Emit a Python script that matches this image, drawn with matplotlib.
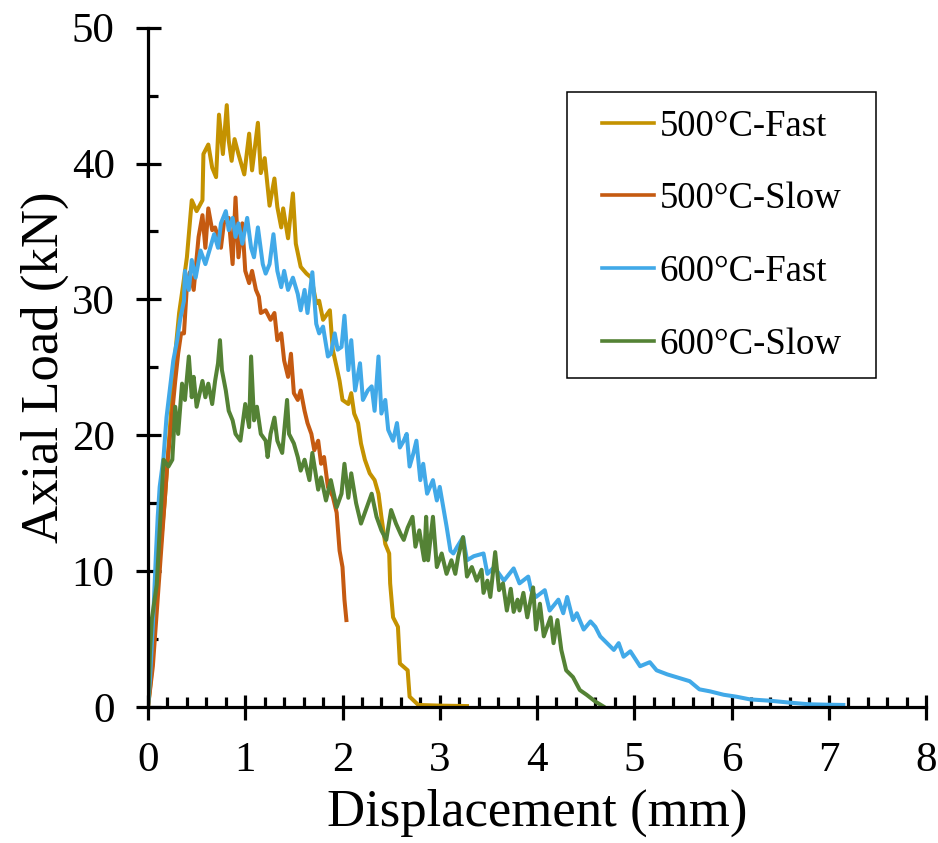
import matplotlib
matplotlib.use("Agg")
import matplotlib.pyplot as plt
from matplotlib.ticker import MultipleLocator
from matplotlib.patches import Rectangle

plt.rcParams['font.family'] = ['Liberation Serif', 'DejaVu Serif']

labels = ["500°C-Fast", "500°C-Slow", "600°C-Fast", "600°C-Slow"]
colors = ["#C49200", "#C55A11", "#41A9E8", "#548235"]

fast500 = [(0, 0), (0.03, 2), (0.07, 6), (0.12, 11), (0.17, 15), (0.20, 18), (0.24, 22), (0.28, 26),
           (0.32, 29), (0.36, 31), (0.40, 33.1), (0.45, 37.3), (0.50, 36.5), (0.56, 37.3), (0.57, 40.7),
           (0.62, 41.4), (0.66, 39.7), (0.70, 39.0), (0.73, 43.6), (0.77, 40.7), (0.81, 44.3), (0.83, 41.7),
           (0.86, 40.2), (0.89, 41.8), (0.93, 40.7), (0.99, 39.2), (1.04, 42.2), (1.07, 39.5), (1.13, 43.0),
           (1.16, 39.3), (1.20, 40.4), (1.25, 36.9), (1.30, 38.9), (1.33, 36.8), (1.37, 35.3), (1.39, 36.7),
           (1.44, 34.5), (1.49, 37.8), (1.52, 34.1), (1.57, 32.4), (1.63, 31.9), (1.68, 31.6), (1.73, 29.7),
           (1.76, 29.9), (1.80, 28.5), (1.87, 29.2), (1.90, 26.3), (1.94, 25.0), (1.97, 24.0), (2.00, 22.6),
           (2.06, 22.3), (2.09, 23.1), (2.12, 21.6), (2.16, 20.9), (2.19, 19.4), (2.23, 18.2), (2.28, 17.2),
           (2.33, 16.7), (2.37, 15.7), (2.40, 14.0), (2.44, 12.0), (2.48, 11.3), (2.49, 9.1), (2.52, 6.6),
           (2.57, 5.9), (2.59, 3.2), (2.67, 2.7), (2.69, 0.76), (2.78, 0.15), (3.00, 0.1), (3.28, 0.07)]

slow500 = [(0, 0), (0.05, 3), (0.10, 8), (0.15, 13), (0.20, 18), (0.24, 21), (0.28, 24), (0.31, 26),
           (0.34, 27.5), (0.37, 27.5), (0.40, 31), (0.43, 32.0), (0.47, 30.7), (0.52, 34.6), (0.56, 36.2),
           (0.59, 33.8), (0.62, 36.7), (0.66, 35.1), (0.69, 35.3), (0.75, 33.8), (0.78, 35.6), (0.83, 36.0),
           (0.87, 32.6), (0.90, 37.5), (0.93, 33.1), (0.97, 35.6), (1.00, 32.1), (1.04, 31.2), (1.07, 32.1),
           (1.11, 30.7), (1.14, 30.2), (1.16, 29.0), (1.21, 29.2), (1.26, 28.5), (1.30, 29.0), (1.33, 27.0),
           (1.37, 27.5), (1.40, 25.5), (1.44, 24.3), (1.47, 26.0), (1.50, 23.1), (1.54, 22.6), (1.57, 23.3),
           (1.61, 21.8), (1.64, 20.9), (1.68, 20.1), (1.71, 18.9), (1.75, 19.6), (1.78, 17.9), (1.81, 18.4),
           (1.85, 16.2), (1.90, 15.5), (1.94, 14.3), (1.97, 11.5), (2.00, 10.3), (2.02, 7.9), (2.04, 6.4)]

fast600 = [(0, 0), (0.02, 2), (0.05, 6), (0.08, 11), (0.10, 14), (0.12, 16.2), (0.16, 18.4), (0.19, 21.3),
           (0.26, 25.5), (0.30, 27.0), (0.33, 28.5), (0.37, 29.9), (0.38, 32.1), (0.42, 30.7), (0.45, 32.9),
           (0.49, 31.6), (0.54, 33.6), (0.59, 32.6), (0.64, 33.8), (0.68, 34.8), (0.72, 33.8), (0.75, 35.6),
           (0.80, 36.5), (0.83, 35.1), (0.87, 36.0), (0.90, 34.6), (0.93, 35.6), (0.97, 34.1), (1.02, 36.0),
           (1.06, 33.8), (1.09, 33.1), (1.13, 35.3), (1.18, 32.6), (1.21, 31.9), (1.25, 32.6), (1.29, 34.8),
           (1.33, 32.1), (1.37, 30.9), (1.40, 32.1), (1.44, 30.7), (1.49, 31.6), (1.54, 30.4), (1.57, 29.2),
           (1.61, 30.7), (1.64, 29.0), (1.69, 32.0), (1.73, 28.2), (1.76, 27.5), (1.80, 28.0), (1.85, 25.8),
           (1.88, 26.0), (1.92, 27.5), (1.95, 26.3), (1.99, 26.5), (2.02, 28.8), (2.06, 24.8), (2.09, 27.0),
           (2.13, 23.3), (2.18, 25.3), (2.21, 22.6), (2.26, 23.3), (2.30, 23.6), (2.33, 21.8), (2.37, 25.8),
           (2.40, 21.6), (2.44, 22.6), (2.47, 20.4), (2.52, 19.6), (2.56, 20.9), (2.59, 19.1), (2.63, 19.6),
           (2.66, 20.1), (2.69, 17.7), (2.73, 18.7), (2.76, 19.6), (2.80, 16.7), (2.83, 17.9), (2.87, 15.7),
           (2.93, 16.7), (2.97, 15.2), (3.00, 16.2), (3.07, 13.3), (3.11, 11.5), (3.14, 11.3), (3.18, 11.8),
           (3.24, 12.5), (3.28, 10.8), (3.35, 11.1), (3.45, 11.3), (3.49, 9.8), (3.56, 10.3), (3.66, 9.3),
           (3.76, 10.2), (3.82, 9.1), (3.91, 9.6), (3.94, 8.6), (3.99, 8.1), (4.08, 8.6), (4.13, 7.1),
           (4.22, 7.9), (4.27, 6.9), (4.31, 8.1), (4.37, 6.4), (4.41, 6.9), (4.48, 5.7), (4.55, 6.3),
           (4.60, 5.9), (4.65, 5.2), (4.72, 4.7), (4.79, 4.2), (4.84, 4.7), (4.89, 3.7), (4.96, 4.1),
           (5.06, 3.0), (5.16, 3.3), (5.23, 2.7), (5.34, 2.4), (5.48, 2.1), (5.57, 1.9), (5.67, 1.3),
           (5.78, 1.15), (5.92, 0.9), (6.05, 0.76), (6.19, 0.56), (6.40, 0.46), (6.60, 0.32), (6.80, 0.2),
           (6.98, 0.17), (7.15, 0.15)]

slow600 = [(0, 0), (0.02, 4), (0.04, 6.5), (0.06, 7.5), (0.09, 9), (0.12, 13), (0.14, 15.5), (0.16, 18.2),
           (0.21, 17.7), (0.25, 18.2), (0.28, 22.1), (0.31, 20.1), (0.35, 23.8), (0.38, 22.6), (0.42, 25.8),
           (0.45, 22.8), (0.47, 24.3), (0.50, 22.1), (0.56, 24.0), (0.59, 22.8), (0.62, 23.8), (0.66, 22.3),
           (0.69, 24.0), (0.72, 25.3), (0.74, 27.0), (0.76, 24.8), (0.80, 23.3), (0.83, 21.8), (0.87, 21.1),
           (0.90, 20.1), (0.95, 19.6), (1.00, 22.3), (1.04, 20.6), (1.06, 25.8), (1.09, 21.1), (1.12, 22.1),
           (1.16, 20.1), (1.21, 19.6), (1.23, 18.4), (1.26, 20.1), (1.30, 21.3), (1.33, 19.6), (1.38, 18.7),
           (1.43, 22.6), (1.45, 20.1), (1.50, 19.4), (1.54, 18.4), (1.57, 17.4), (1.61, 18.2), (1.66, 16.7),
           (1.69, 18.7), (1.75, 16.0), (1.78, 16.9), (1.83, 15.2), (1.88, 16.7), (1.94, 14.7), (1.99, 15.7),
           (2.02, 17.9), (2.06, 15.4), (2.09, 17.2), (2.14, 15.0), (2.19, 13.5), (2.25, 14.7), (2.30, 15.7),
           (2.35, 14.0), (2.40, 13.0), (2.45, 12.3), (2.50, 14.5), (2.55, 13.5), (2.60, 12.7), (2.63, 12.3),
           (2.67, 13.2), (2.72, 14.0), (2.75, 11.8), (2.79, 13.0), (2.84, 10.8), (2.86, 14.0), (2.88, 10.8),
           (2.93, 14.0), (2.97, 10.3), (3.02, 11.3), (3.07, 9.8), (3.12, 10.8), (3.16, 9.8), (3.19, 11.1),
           (3.24, 12.5), (3.28, 9.6), (3.33, 10.3), (3.38, 9.3), (3.43, 10.1), (3.45, 8.4), (3.49, 9.3),
           (3.52, 8.1), (3.57, 11.4), (3.61, 8.6), (3.65, 9.1), (3.69, 7.1), (3.73, 8.7), (3.76, 7.0),
           (3.80, 7.9), (3.82, 7.1), (3.86, 8.4), (3.90, 6.6), (3.96, 8.8), (3.99, 5.7), (4.03, 7.6),
           (4.07, 5.2), (4.14, 6.6), (4.17, 4.7), (4.21, 6.4), (4.25, 4.2), (4.30, 2.7), (4.37, 2.2),
           (4.44, 1.25), (4.51, 0.9), (4.60, 0.4), (4.68, 0.05)]

series = [fast500, slow500, fast600, slow600]

fig = plt.figure(figsize=(9.38, 8.43), dpi=100)
ax = fig.add_axes([148 / 938, 1 - 707 / 843, (926 - 148) / 938, (707 - 27.7) / 843])

handles = []
for data, lab, col in zip(series, labels, colors):
    xs = [p[0] for p in data]
    ys = [p[1] for p in data]
    h, = ax.plot(xs, ys, color=col, lw=2.9, label=lab, solid_joinstyle='round')
    handles.append(h)

ax.set_xlim(0, 8)
ax.set_ylim(0, 50)
ax.xaxis.set_major_locator(MultipleLocator(1))
ax.xaxis.set_minor_locator(MultipleLocator(0.2))
ax.yaxis.set_major_locator(MultipleLocator(10))
ax.yaxis.set_minor_locator(MultipleLocator(5))

for s in ['top', 'right']:
    ax.spines[s].set_visible(False)
for s in ['left', 'bottom']:
    ax.spines[s].set_linewidth(2.3)

ax.tick_params(which='major', direction='inout', length=18, width=2.3, labelsize=31)
ax.tick_params(which='minor', direction='in', length=7.5, width=2.3)
ax.tick_params(axis='x', which='major', pad=16)
ax.tick_params(axis='y', which='major', pad=15)

ax.set_xlabel("Displacement (mm)", fontsize=38, labelpad=6)
ax.set_ylabel("Axial Load (kN)", fontsize=38, labelpad=2)

leg = ax.legend(handles=handles, loc='center', bbox_to_anchor=(721.5 / 938, 1 - 235.5 / 843),
                bbox_transform=fig.transFigure, frameon=False, fontsize=26.5,
                handlelength=1.41, handletextpad=0.16, labelspacing=1.04,
                borderpad=0, borderaxespad=0)
for ln in leg.get_lines():
    ln.set_linewidth(2.6)
rect = Rectangle((567 / 938, 1 - 378 / 843), 309 / 938, 286 / 843, transform=fig.transFigure,
                 fill=False, edgecolor='black', linewidth=1.1)
fig.patches.append(rect)

fig.savefig("out.png", dpi=100)
